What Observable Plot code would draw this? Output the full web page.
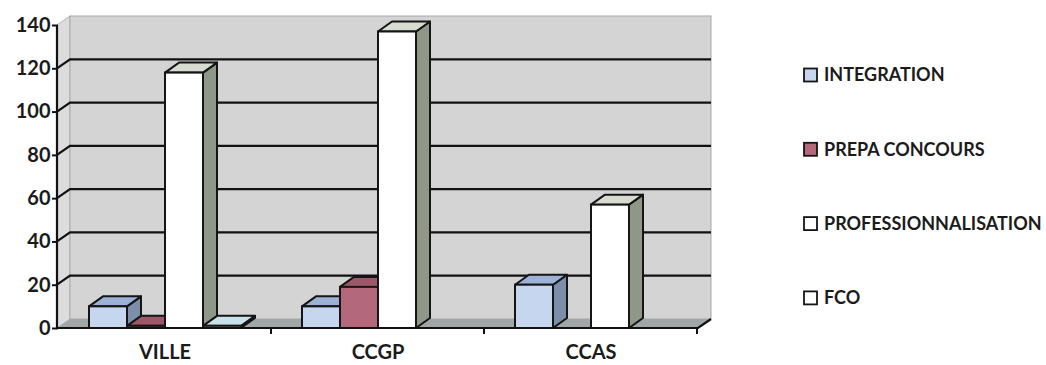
<!DOCTYPE html>
<html>
<head>
<meta charset="utf-8">
<script src="https://cdn.jsdelivr.net/npm/d3@7"></script>
<script src="https://cdn.jsdelivr.net/npm/@observablehq/plot@0.6"></script>
<style>
  html, body { margin: 0; padding: 0; background: #ffffff; }
  #chart { width: 1046px; height: 365px; }
</style>
</head>
<body>
<div id="chart"></div>
<script>
// ---- data ----
const categories = ["VILLE", "CCGP", "CCAS"];
const series = ["INTEGRATION", "PREPA CONCOURS", "PROFESSIONNALISATION", "FCO"];
const integration = [10, 10, 20];
const prepaConcours = [1, 19, 0];
const professionnalisation = [118, 137, 57];
const fco = [1, 0, 0];
const yTicks = [0, 20, 40, 60, 80, 100, 120, 140];

// ---- styles ----
const frontColors = ["#c6d6ee", "#b3687b", "#ffffff", "#dcecf0"];
const topColors   = ["#9cb1d6", "#9c586a", "#d8dcd0", "#c9e1e8"];
const sideColors  = ["#7b8eaa", "#7e4656", "#8e9788", "#9fb6bc"];
const legendColors = ["#c6d6ee", "#b3687b", "#ffffff", "#ffffff"];

const valuesBySeries = [integration, prepaConcours, professionnalisation, fco];
const rows = [];
categories.forEach((c, ci) => series.forEach((s, si) => rows.push({cat: c, series: s, value: valuesBySeries[si][ci]})));

const DX = 13, DY = -9;     // depth of the 3D walls
const BDX = 14, BDY = -10;  // depth of the bars

const chart = Plot.plot({
  width: 1046,
  height: 365,
  marginLeft: 57,
  marginRight: 348,
  marginTop: 25,
  marginBottom: 37,
  style: {fontFamily: "Lato, 'Open Sans', sans-serif", fontWeight: "bold", color: "#1b1b1b", background: "#ffffff", overflow: "visible"},
  fx: {domain: categories, padding: 0, label: null},
  x: {domain: series, paddingInner: 0, paddingOuter: 0.75, axis: null},
  y: {domain: [0, 140], axis: null},
  color: {domain: series, range: frontColors},
  marks: [
    Plot.barY(rows.filter(d => d.value > 0), {fx: "cat", x: "series", y: "value", fill: "series", stroke: "#151515", strokeWidth: 2}),
    Plot.axisY({ticks: yTicks, tickSize: 6, tickPadding: 2, fontSize: 20, fontWeight: "bold", tickFormat: d => String(d), label: null, strokeWidth: 2}),
    Plot.axisFx({anchor: "bottom", tickSize: 0, tickPadding: 16, fontSize: 20, fontWeight: "bold", label: null})
  ]
});
document.getElementById("chart").appendChild(chart);

// ---- 3D decoration derived from the plot's scales ----
const svg = d3.select(chart);
const yS = chart.scale("y");
const fxS = chart.scale("fx");
const X0 = fxS.range[0], X1 = fxS.range[1];
const Y0 = yS.apply(0), YT = yS.apply(140);
const pts = a => a.map(p => p.join(",")).join(" ");

const bg = svg.insert("g", ":first-child").attr("aria-label", "walls");
// left wall
bg.append("polygon").attr("points", pts([[X0, YT], [X0 + DX, YT + DY], [X0 + DX, Y0 + DY], [X0, Y0]]))
  .attr("fill", "#dcdcdc").attr("stroke", "#b5b5b5").attr("stroke-width", 1);
// back wall
bg.append("rect").attr("x", X0 + DX).attr("y", YT + DY).attr("width", X1 - X0).attr("height", Y0 - YT)
  .attr("fill", "#d4d4d4").attr("stroke", "#a8a8a8").attr("stroke-width", 1);
// floor
bg.append("polygon").attr("points", pts([[X0, Y0], [X1, Y0], [X1 + DX, Y0 + DY], [X0 + DX, Y0 + DY]]))
  .attr("fill", "#a1a6a6");
// grid lines
yTicks.filter(v => v > 0 && v < 140).forEach(v => {
  const yy = yS.apply(v);
  bg.append("polyline").attr("points", pts([[X0, yy], [X0 + DX, yy + DY], [X1 + DX, yy + DY]]))
    .attr("fill", "none").attr("stroke", "#111").attr("stroke-width", 2.2);
});
// front floor edge, right floor edge, axis line, category boundary ticks
const fg = svg.append("g").attr("aria-label", "axis lines");
fg.append("polyline").attr("points", pts([[X0, Y0], [X1, Y0], [X1 + DX, Y0 + DY]]))
  .attr("fill", "none").attr("stroke", "#111").attr("stroke-width", 2.2);
fg.append("line").attr("x1", X0).attr("x2", X0).attr("y1", YT).attr("y2", Y0)
  .attr("stroke", "#111").attr("stroke-width", 2.2);
categories.forEach(c => {
  const xb = fxS.apply(c) + fxS.bandwidth;
  fg.append("line").attr("x1", xb).attr("x2", xb).attr("y1", Y0).attr("y2", Y0 + 6)
    .attr("stroke", "#111").attr("stroke-width", 2);
});
svg.selectAll('g[aria-label="y-axis tick"] path').attr("stroke-width", 2).attr("stroke", "#111");

// bar top & side faces
svg.selectAll('g[aria-label="bar"] rect').each(function() {
  const r = d3.select(this);
  const x = +r.attr("x"), y = +r.attr("y"), w = +r.attr("width"), h = +r.attr("height");
  const si = frontColors.indexOf(r.attr("fill"));
  const parent = this.parentNode;
  const mk = (points, fill) => {
    const p = document.createElementNS("http://www.w3.org/2000/svg", "polygon");
    p.setAttribute("points", pts(points));
    p.setAttribute("fill", fill);
    p.setAttribute("stroke", "#151515");
    p.setAttribute("stroke-width", 2);
    p.setAttribute("stroke-linejoin", "round");
    parent.insertBefore(p, this);
  };
  mk([[x + w, y], [x + w + BDX, y + BDY], [x + w + BDX, y + h + BDY], [x + w, y + h]], sideColors[si] || "#888");
  mk([[x, y], [x + BDX, y + BDY], [x + w + BDX, y + BDY], [x + w, y]], topColors[si] || "#ccc");
});

// legend
const lg = svg.append("g").attr("aria-label", "legend").attr("font-size", 18).attr("font-weight", "bold").attr("text-anchor", "start");
const legendX = 804, legendY0 = 75, legendStep = 74.3;
series.forEach((s, i) => {
  const cy = legendY0 + i * legendStep;
  lg.append("rect").attr("x", legendX).attr("y", cy - 6.5).attr("width", 13).attr("height", 13)
    .attr("fill", legendColors[i]).attr("stroke", "#151515").attr("stroke-width", 1.8);
  lg.append("text").attr("x", legendX + 20).attr("y", cy).attr("dy", "0.36em").attr("text-anchor", "start").attr("fill", "#1b1b1b").text(s);
});
</script>
</body>
</html>
